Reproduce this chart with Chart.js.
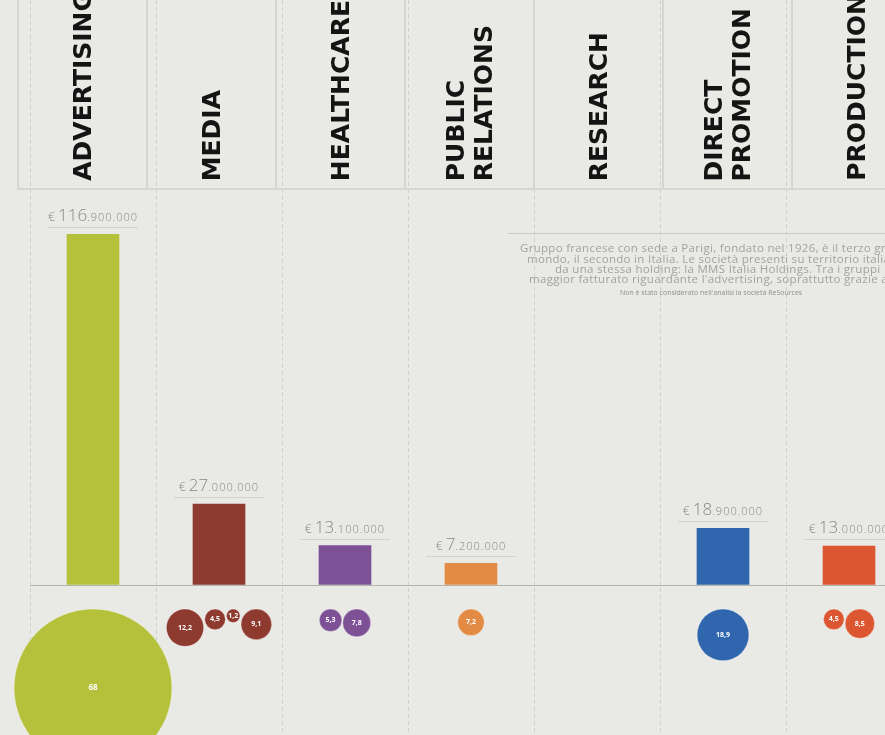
<!DOCTYPE html>
<html>
<head>
<meta charset="utf-8">
<script src="https://cdn.jsdelivr.net/npm/chart.js@4.4.1/dist/chart.umd.min.js"></script>
<style>
  html, body { margin: 0; padding: 0; }
  body { width: 885px; height: 735px; overflow: hidden; position: relative; background: #e9e9e6; font-family: "Open Sans", sans-serif; }
  #grafico { position: absolute; left: 0; top: 0; }
  #testata { position: absolute; left: 17px; top: 0; height: 188px; display: flex;
             border-left: 2px solid #d5d5d1; border-bottom: 2px solid #d5d5d1; }
  #testata .col { width: 127px; height: 188px; flex: none; border-right: 2px solid #d5d5d1;
                  display: flex; justify-content: center; align-items: flex-end; }
  #testata .col span { writing-mode: vertical-rl; transform: rotate(180deg); white-space: pre;
                       font: bold 25px "DejaVu Sans", sans-serif; line-height: 28px; color: #141414;
                       margin-bottom: 7px; }
  #regola { position: absolute; left: 508px; top: 233px; width: 400px; border-top: 1px solid #c9c9c5; }
  .nota { position: absolute; white-space: nowrap; color: #a2a2a2; font-size: 11.5px; line-height: 11px; letter-spacing: 0.3px; }
  .nota.small { font-size: 7px; color: #8f8f8f; letter-spacing: 0; }
</style>
</head>
<body>
<canvas id="grafico" width="912" height="735"></canvas>
<div id="testata"></div>
<div id="regola"></div>
<div class="nota" style="left:520px;top:242px">Gruppo francese con sede a Parigi, fondato nel 1926, è il terzo gruppo pubblicitario al</div>
<div class="nota" style="left:527px;top:253px">mondo, il secondo in Italia. Le società presenti su territorio italiano sono controllate</div>
<div class="nota" style="left:555px;top:263px">da una stessa holding: la MMS Italia Holdings. Tra i gruppi</div>
<div class="nota" style="left:529px;top:273px">maggior fatturato riguardante l'advertising, soprattutto grazie a</div>
<div class="nota small" style="left:620px;top:287px">Non è stato considerato nell'analisi la società ReSources</div>
<script>
// settori e fatturato (milioni di euro)
const categorie = ['ADVERTISING', 'MEDIA', 'HEALTHCARE', 'PUBLIC RELATIONS', 'RESEARCH', 'DIRECT PROMOTION', 'PRODUCTION'];
const fatturato = [116.9, 27.0, 13.1, 7.2, null, 18.9, 13.0];
const colori = ['#b6c13b', '#8e3a2e', '#7e5096', '#e38b45', '#999999', '#2f66ad', '#dc5731'];
// quote delle singole società per settore (milioni)
const quote = [[68], [12.2, 4.5, 1.2, 9.1], [5.3, 7.8], [7.2], [], [18.9], [4.5, 8.5]];

// intestazioni ruotate
const testata = document.getElementById('testata');
categorie.forEach(c => {
  const col = document.createElement('div');
  col.className = 'col';
  const s = document.createElement('span');
  s.textContent = c.split(' ').join('\n');
  col.appendChild(s);
  testata.appendChild(col);
});

const W = 882, H = 735, SX = 30;
const Y_MIN = -50, Y_MAX = 195;
const pxY = H / (Y_MAX - Y_MIN);
const colW = W / categorie.length;
const raggio = v => 5.5 + 1.08 * v;

// bolle affiancate sotto ogni barra, allineate in alto
const bolle = [];
quote.forEach((q, i) => {
  const tot = q.reduce((s, v) => s + 2 * raggio(v), 0) + (q.length - 1);
  let x = -tot / 2;
  q.forEach(v => {
    const r = raggio(v);
    x += r;
    bolle.push({ x: i + x / colW, y: -(24 + r) / pxY, r, v, c: colori[i] });
    x += r + 1;
  });
});

function formatEuro (v) {
  return Math.round(v * 1e6).toString().replace(/\B(?=(\d{3})+(?!\d))/g, '.');
}

const etichette = {
  id: 'etichette',
  afterDatasetsDraw (chart) {
    const ctx = chart.ctx;
    ctx.save();
    chart.getDatasetMeta(0).data.forEach((bar, i) => {
      const v = fatturato[i];
      if (v == null) return;
      const s = formatEuro(v);
      const k = s.indexOf('.');
      // "€ 27" grande, ".000.000" piccolo e spaziato
      const parti = [['€ ', '300 12px "Open Sans"', '0px'], [s.slice(0, k), '300 17px "Open Sans"', '0px'], [s.slice(k), '300 11px "Open Sans"', '1px']];
      let tot = 0;
      parti.forEach(p => { ctx.font = p[1]; ctx.letterSpacing = p[2]; tot += ctx.measureText(p[0]).width; });
      let x = bar.x - tot / 2;
      const y = bar.y - 13;
      ctx.fillStyle = '#878787';
      ctx.textBaseline = 'alphabetic';
      ctx.textAlign = 'left';
      parti.forEach(p => {
        ctx.font = p[1]; ctx.letterSpacing = p[2];
        ctx.fillText(p[0], x, y);
        x += ctx.measureText(p[0]).width;
      });
      ctx.letterSpacing = '0px';
      ctx.strokeStyle = '#d2d2ce';
      ctx.lineWidth = 1;
      ctx.beginPath();
      ctx.moveTo(bar.x - 45, Math.round(bar.y - 7) + 0.5);
      ctx.lineTo(bar.x + 45, Math.round(bar.y - 7) + 0.5);
      ctx.stroke();
    });
    ctx.fillStyle = '#ffffff';
    ctx.textAlign = 'center';
    ctx.textBaseline = 'middle';
    chart.getDatasetMeta(1).data.forEach((p, j) => {
      const b = bolle[j];
      ctx.font = 'bold ' + (b.r > 40 ? 8 : 7) + 'px "Open Sans"';
      ctx.fillText(String(b.v).replace('.', ','), p.x, p.y);
    });
    ctx.restore();
  }
};

new Chart(document.getElementById('grafico'), {
  type: 'bar',
  data: {
    labels: categorie,
    datasets: [
      { type: 'bar', data: fatturato, backgroundColor: colori, barThickness: 52, borderWidth: 0, grouped: false },
      { type: 'bubble', data: bolle, xAxisID: 'xb', yAxisID: 'y', clip: false,
        backgroundColor: bolle.map(b => b.c), borderColor: 'rgba(255,255,255,0.35)', borderWidth: 1 }
    ]
  },
  options: {
    responsive: false,
    animation: false,
    devicePixelRatio: 1,
    events: [],
    layout: { autoPadding: false, padding: { left: SX, right: 0, top: 0, bottom: 0 } },
    plugins: { legend: { display: false }, tooltip: { enabled: false } },
    scales: {
      x: {
        type: 'category', offset: true,
        grid: { offset: true, color: '#d0d0cc', lineWidth: 1, drawTicks: false },
        border: { display: false, dash: [4, 3] },
        ticks: { display: false }
      },
      xb: { type: 'linear', display: false, offset: false, min: -0.5, max: categorie.length - 0.5 },
      y: {
        min: Y_MIN, max: Y_MAX,
        grid: { color: c => c.tick.value === 0 ? '#b4b4af' : 'transparent', drawTicks: false },
        border: { display: false },
        ticks: { display: false, stepSize: 50 }
      }
    }
  },
  plugins: [etichette]
});
</script>
</body>
</html>
